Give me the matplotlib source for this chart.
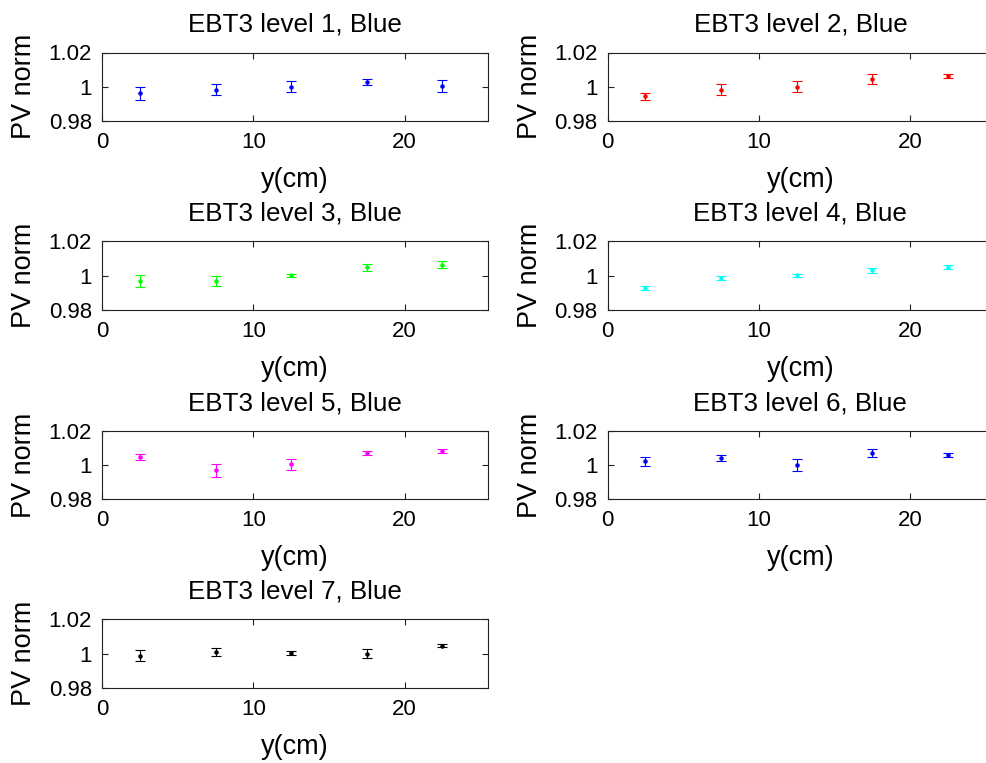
import matplotlib
matplotlib.use("Agg")
import matplotlib.pyplot as plt
from matplotlib.ticker import FuncFormatter

plt.rcParams['font.family'] = ['Liberation Sans', 'DejaVu Sans']

x_cm = [2.5, 7.5, 12.5, 17.5, 22.5]

titles = ["EBT3 level 1, Blue", "EBT3 level 2, Blue", "EBT3 level 3, Blue",
          "EBT3 level 4, Blue", "EBT3 level 5, Blue", "EBT3 level 6, Blue",
          "EBT3 level 7, Blue"]
colors = ["#0000ff", "#ff0000", "#00ff00", "#00ffff", "#ff00ff", "#0000ff", "#000000"]

level1 = [0.9962, 0.9983, 1.0001, 1.0028, 1.0005]
level1_err = [0.0037, 0.0034, 0.0034, 0.0018, 0.0036]
level2 = [0.9944, 0.9983, 1.0001, 1.0046, 1.0063]
level2_err = [0.0020, 0.0032, 0.0032, 0.0030, 0.0013]
level3 = [0.9968, 0.9968, 1.0001, 1.0047, 1.0063]
level3_err = [0.0034, 0.0031, 0.0010, 0.0020, 0.0020]
level4 = [0.9929, 0.9985, 1.0002, 1.0029, 1.0048]
level4_err = [0.0013, 0.0012, 0.0008, 0.0012, 0.0011]
level5 = [1.0046, 0.9968, 1.0003, 1.0073, 1.0081]
level5_err = [0.0017, 0.0037, 0.0032, 0.0012, 0.0013]
level6 = [1.0021, 1.0041, 1.0000, 1.0070, 1.0060]
level6_err = [0.0026, 0.0015, 0.0033, 0.0025, 0.0012]
level7 = [0.9987, 1.0007, 1.0001, 0.9999, 1.0046]
level7_err = [0.0032, 0.0024, 0.0012, 0.0028, 0.0009]

values = [level1, level2, level3, level4, level5, level6, level7]
errors = [level1_err, level2_err, level3_err, level4_err, level5_err, level6_err, level7_err]

W, H = 987, 763
fig = plt.figure(figsize=(W / 100, H / 100), dpi=100)

col_left = [102.3, 607.7]
ax_w = 385.4
rows = [(52.5, 121), (241, 310), (431, 499), (619.3, 687.7)]

fmt = FuncFormatter(lambda v, p: ('%g' % round(v, 4)))

for i in range(7):
    r, c = divmod(i, 2)
    top, bot = rows[r]
    ax = fig.add_axes([col_left[c] / W, 1 - bot / H, ax_w / W, (bot - top) / H])
    ax.errorbar(x_cm, values[i], yerr=errors[i], fmt='.', color=colors[i],
                ecolor=colors[i], markersize=4.5, elinewidth=0.8, capsize=3.5,
                capthick=0.8)
    ax.set_xlim(0, 25.5)
    ax.set_ylim(0.98, 1.02)
    ax.set_xticks([0, 10, 20])
    ax.set_yticks([0.98, 1.0, 1.02])
    ax.yaxis.set_major_formatter(fmt)
    ax.tick_params(direction='in', length=4, width=0.8, top=True, right=True,
                   labelsize=16, colors='#222222', labelcolor='black')
    ax.tick_params(axis='x', pad=8)
    ax.tick_params(axis='y', pad=7.5)
    for s in ax.spines.values():
        s.set_linewidth(0.8)
        s.set_color('#222222')
    ax.set_title(titles[i], fontsize=18.7, pad=15)
    ax.set_xlabel('y(cm)', fontsize=19.5, labelpad=10)
    ax.set_ylabel('PV norm', fontsize=19.5, labelpad=8)

fig.savefig('out.png', dpi=100)
